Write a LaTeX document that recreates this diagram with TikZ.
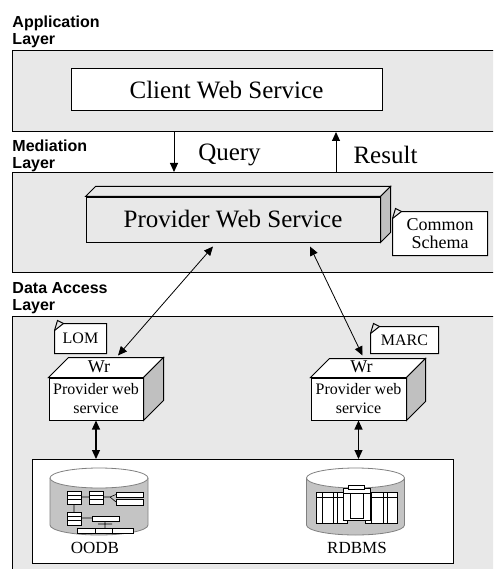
\documentclass[tikz,border=0pt]{standalone}
\usepackage{fontspec}
\setmainfont{Liberation Serif}
\newfontfamily\layerfont{Liberation Sans}
\usetikzlibrary{arrows.meta}
\definecolor{layerbg}{HTML}{E8E8E8}
\definecolor{sidegray}{HTML}{C0C0C0}
\definecolor{dbgray}{HTML}{C4C4C4}
\tikzset{
	layer/.style={draw,fill=layerbg,anchor=north west,inner sep=0pt},
	lbl/.style={anchor=north west,inner sep=0pt,align=left,font=\layerfont\bfseries\fontsize{16}{17}\selectfont},
	front/.style={draw,inner sep=0pt,align=center},
	note/.style={fill=white,inner sep=0pt,align=center,font=\fontsize{16}{18}\selectfont},
	icon/.style={draw,fill=white,line width=.6pt},
	cyl/.style={fill=dbgray,draw=gray,line width=.8pt}
}
\begin{document}
\begin{tikzpicture}[x=1pt,y=-1pt,line width=1pt,>={Triangle[length=9pt,width=8pt]},font=\fontsize{25}{30}\selectfont]
	\clip (0,0) rectangle (493,569);
	% layers
	\node[layer,minimum width=490pt,minimum height=81pt] (app) at (12,50) {};
	\node[layer,minimum width=490pt,minimum height=100pt] (med) at (12,172) {};
	\node[layer,minimum width=490pt,minimum height=260pt] (dal) at (12,316) {};
	\node[lbl] (applbl) at (12,15) {Application\\Layer};
	\node[lbl] (medlbl) at (12,139) {Mediation\\Layer};
	\node[lbl] (dallbl) at (12,282) {Data Access\\Layer};
	% services
	\node[front,fill=white,minimum width=311pt,minimum height=42pt] (cws) at (226.5,90) {Client Web Service};
	\node[front,fill=layerbg,minimum width=294pt,minimum height=45pt] (pws) at (233,219.5) {Provider Web Service};
	\node[front,fill=white,minimum width=94pt,minimum height=42pt,font=\fontsize{16}{19}\selectfont] (wr1) at (96,399) {Provider web\\service};
	\node[front,fill=white,minimum width=95pt,minimum height=42pt,font=\fontsize{16}{19}\selectfont] (wr2) at (358.5,399) {Provider web\\service};
	\foreach \n/\d/\c in {pws/10/layerbg,wr1/20/white,wr2/19/white}{
		\filldraw[fill=\c] (\n.north west) -- ++(\d,-\d) -- ([shift={(\d,-\d)}]\n.north east) -- (\n.north east) -- cycle;
		\filldraw[fill=sidegray] (\n.north east) -- ++(\d,-\d) -- ([shift={(\d,-\d)}]\n.south east) -- (\n.south east) -- cycle;
	}
	\node[font=\fontsize{18}{18}\selectfont] (wr1t) at ([shift={(3,-11)}]wr1.north) {Wr};
	\node[font=\fontsize{18}{18}\selectfont] (wr2t) at ([shift={(3,-11)}]wr2.north) {Wr};
	% notes
	\node[note,minimum width=94pt,minimum height=43pt,font=\fontsize{18}{18}\selectfont] (cs) at (440,233.5) {Common\\Schema};
	\node[note,minimum width=51pt,minimum height=29pt] (lom) at (80.5,338.5) {LOM};
	\node[note,minimum width=67pt,minimum height=26pt] (marc) at (404.5,340) {MARC};
	\foreach \n in {cs,lom,marc}{
		\fill[layerbg] (\n.north west) -- ([xshift=9pt]\n.north west) -- ([yshift=-7pt]\n.north west) -- cycle;
		\draw ([xshift=9pt]\n.north west) -- (\n.north east) -- (\n.south east) -- (\n.south west) -- ([yshift=-7pt]\n.north west) -- cycle;
		\draw ([yshift=-7pt]\n.north west) -- ([shift={(3,-3)}]\n.north west) -- ([xshift=9pt]\n.north west);
	}
	% query / result
	\path (174,0) coordinate (qx) (336,0) coordinate (rx);
	\draw[->] (qx |- app.south) -- (qx |- med.north);
	\draw[->] (rx |- med.north) -- (rx |- app.south);
	\node (query) at (229.5,155) {Query};
	\node (result) at (385.5,155) {Result};
	% databases
	\node[draw,fill=white,anchor=north west,minimum width=421pt,minimum height=104pt,inner sep=0pt] (dbs) at (32,459) {};
	\draw[<->,line width=.8pt] ([shift={(22,-22)}]wr1.north) -- ([shift={(-20,4)}]pws.south);
	\draw[<->,line width=.8pt] ([shift={(4,-22)}]wr2.north) -- ([shift={(77,4)}]pws.south);
	\draw[<->,line width=1.2pt] (wr1.south) -- (wr1.south |- dbs.north);
	\draw[<->,line width=1.2pt] (wr2.south) -- (wr2.south |- dbs.north);
	\foreach \c in {99,355.5}{
		\draw[cyl] (\c-49,478) -- (\c-49,525) arc[start angle=180,end angle=0,x radius=49,y radius=10] -- (\c+49,478);
		\draw[cyl,fill=white] (\c,478) ellipse [x radius=49,y radius=10];
	}
	% oodb icon
	\foreach \x/\y in {67/491,89/491,67/512}{
		\draw[icon] (\x,\y) rectangle ++(14,13);
		\draw[line width=.6pt] (\x,\y+4.3) -- ++(14,0) (\x,\y+8.7) -- ++(14,0);
	}
	\draw[line width=.6pt] (81,497) -- (89,497) (74,504) -- (74,512) (81,518) -- (92,518)
		(103,497) -- (110,497) -- (116,494.5) (110,497) -- (116,502) (105,521) -- (105,528) (98,524) -- (112,524);
	\draw[icon] (116,492) rectangle (143,497);
	\draw[icon] (116,499) rectangle (143,505);
	\draw[icon] (92,516) rectangle (119,521);
	\draw[icon] (77,528) rectangle (133,533);
	\draw[line width=.6pt] (95,528) -- (95,533) (112,528) -- (112,533);
	% rdbms icon
	\draw[icon] (316,492) rectangle (347,523);
	\draw[icon] (365,492) rectangle (397,523);
	\foreach \x in {322,333,337,371,383,387}
		\draw[line width=.6pt] (\x,492) -- (\x,523);
	\draw[line width=.6pt] (316,497) -- (347,497) (365,497) -- (397,497);
	\draw[icon] (343,488) rectangle (370,520);
	\draw[icon] (348,485) rectangle (364,489);
	\draw[line width=.6pt] (343,493) -- (370,493) (350,493) -- (350,518) -- (363,518) -- (363,493);
	\node[font=\fontsize{17}{17}\selectfont] (oodbl) at (95,548) {OODB};
	\node[font=\fontsize{17}{17}\selectfont] (rdbmsl) at (357,548) {RDBMS};
\end{tikzpicture}
\end{document}
